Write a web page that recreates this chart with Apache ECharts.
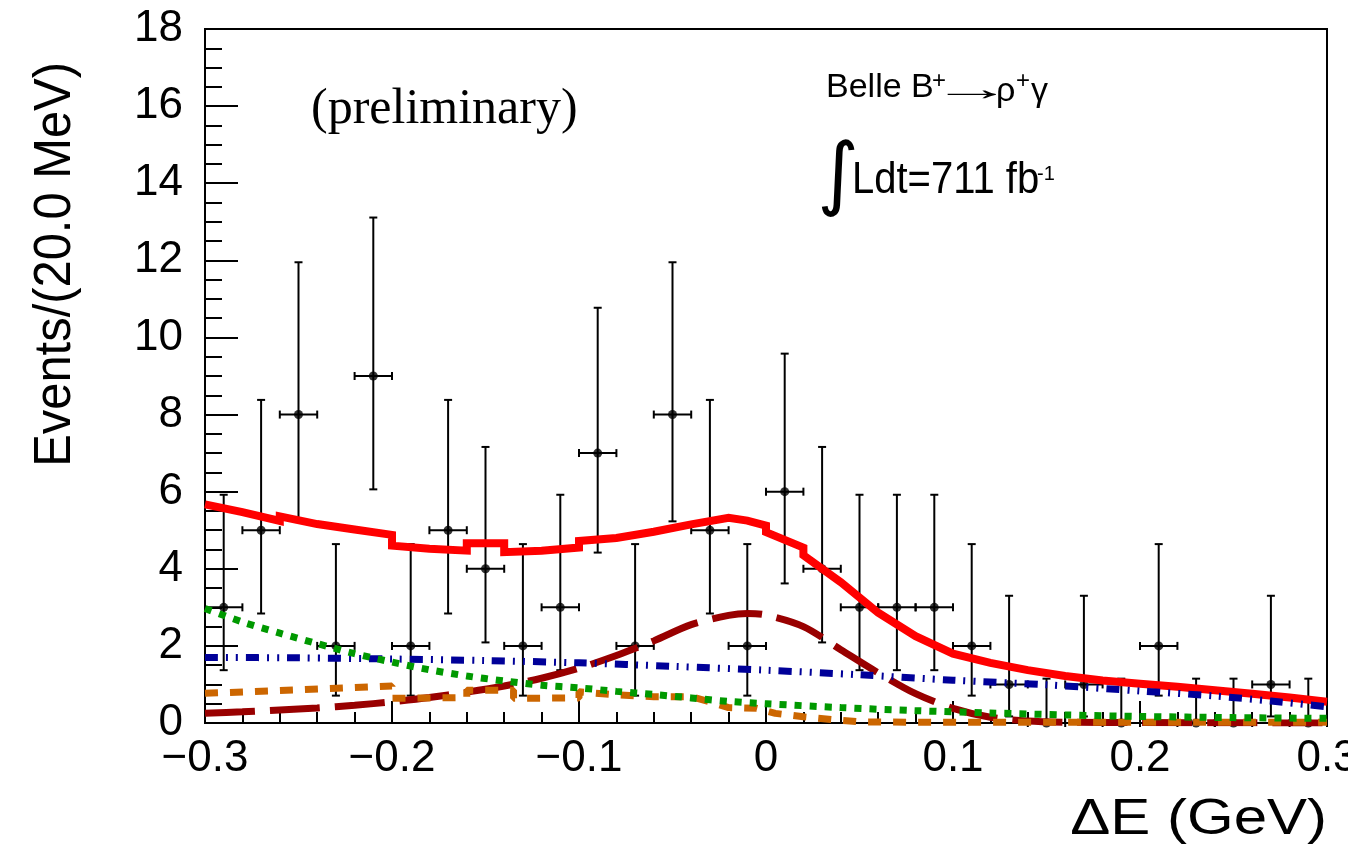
<!DOCTYPE html>
<html>
<head>
<meta charset="utf-8">
<script src="https://cdn.jsdelivr.net/npm/echarts@6/dist/echarts.min.js"></script>
<style>
html,body{margin:0;padding:0;background:#fff;}
#chart{width:1348px;height:850px;}
</style>
</head>
<body>
<div id="chart"></div>
<script>
// ---- data ----
const binWidth = 0.02;
const binCenters = [-0.29,-0.27,-0.25,-0.23,-0.21,-0.19,-0.17,-0.15,-0.13,-0.11,-0.09,-0.07,-0.05,-0.03,-0.01,
                    0.01,0.03,0.05,0.07,0.09,0.11,0.13,0.15,0.17,0.19,0.21,0.23,0.25,0.27,0.29];
const counts = [3,5,8,2,9,2,5,4,2,3,7,2,8,5,2,6,4,3,3,3,2,1,0,1,0,2,0,0,1,0];
const yLow  = [1.37,2.84,5.23,0.71,6.06,0.71,2.84,2.09,0.71,1.37,4.42,0.71,5.23,2.84,0.71,
               3.62,2.09,1.37,1.37,1.37,0.71,0.17,0,0.17,0,0.71,0,0,0.17,0];
const yHigh = [5.92,8.38,11.95,4.64,13.11,4.64,8.38,7.16,4.64,5.92,10.77,4.64,11.95,8.38,4.64,
               9.58,7.16,5.92,5.92,5.92,4.64,3.30,1.15,3.30,1.15,4.64,1.15,1.15,3.30,1.15];

const totalFit = [[-0.30,5.67],[-0.28,5.47],[-0.26,5.24],[-0.26,5.36],[-0.24,5.16],[-0.22,5.02],
  [-0.20,4.88],[-0.20,4.60],[-0.18,4.52],[-0.16,4.47],[-0.16,4.66],[-0.14,4.66],[-0.14,4.43],
  [-0.12,4.47],[-0.10,4.55],[-0.10,4.72],[-0.08,4.80],[-0.06,4.96],[-0.04,5.15],[-0.02,5.32],
  [-0.01,5.25],[0.00,5.12],[0.00,4.95],[0.02,4.55],[0.02,4.35],[0.04,3.65],[0.06,2.86],
  [0.08,2.25],[0.10,1.80],[0.12,1.56],[0.14,1.37],[0.16,1.22],[0.18,1.10],[0.20,1.02],
  [0.22,0.94],[0.24,0.85],[0.26,0.76],[0.28,0.66],[0.30,0.55]];
const signalFit = [[-0.30,0.25],[-0.28,0.29],[-0.26,0.34],[-0.24,0.39],[-0.22,0.46],[-0.20,0.55],
  [-0.18,0.66],[-0.16,0.80],[-0.14,0.96],[-0.12,1.16],[-0.10,1.42],[-0.08,1.75],[-0.06,2.13],
  [-0.04,2.55],[-0.02,2.79],[-0.01,2.84],[0.00,2.80],[0.02,2.50],[0.04,1.90],[0.06,1.30],
  [0.08,0.76],[0.10,0.38],[0.12,0.15],[0.14,0.05],[0.16,0.02],[0.20,0.01],[0.30,0.00]];
const continuumFit = [[-0.30,1.70],[-0.25,1.69],[-0.20,1.66],[-0.15,1.62],[-0.10,1.56],[-0.05,1.47],
  [0.00,1.37],[0.05,1.25],[0.10,1.11],[0.15,0.99],[0.20,0.83],[0.24,0.70],[0.27,0.57],[0.30,0.42]];
const greenFit = [[-0.30,2.97],[-0.28,2.62],[-0.26,2.33],[-0.24,2.06],[-0.22,1.80],[-0.20,1.58],
  [-0.18,1.38],[-0.16,1.22],[-0.14,1.09],[-0.12,0.98],[-0.10,0.91],[-0.08,0.82],[-0.06,0.74],
  [-0.04,0.65],[-0.02,0.56],[0.00,0.50],[0.04,0.40],[0.08,0.32],[0.12,0.26],[0.16,0.21],
  [0.20,0.17],[0.25,0.14],[0.30,0.12]];
const orangeFit = [[-0.30,0.77],[-0.25,0.86],[-0.20,0.96],[-0.20,0.64],[-0.16,0.66],[-0.16,0.85],
  [-0.135,0.85],[-0.135,0.64],[-0.10,0.65],[-0.10,0.81],[-0.08,0.73],[-0.06,0.68],[-0.04,0.68],
  [-0.03,0.55],[-0.02,0.40],[-0.005,0.38],[0.005,0.25],[0.02,0.16],[0.035,0.09],[0.05,0.03],
  [0.08,0.02],[0.30,0.02]];

const xTitle = 'ΔE (GeV)';
const yTitle = 'Events/(20.0 MeV)';

// ---- chart ----
const chart = echarts.init(document.getElementById('chart'), null, {renderer:'canvas'});
const pointData = binCenters.map((x,i)=>[x, counts[i], yLow[i], yHigh[i]]);
const SANS = 'Liberation Sans, Arial, Helvetica, sans-serif';

function fmtX(v){
  const r = Math.round(v*10)/10;
  if (Math.abs(r) < 1e-9) return '0';
  return (r < 0 ? '\u2212' : '') + Math.abs(r).toFixed(1);
}

const option = {
  backgroundColor:'#fff',
  animation:false,
  grid:{left:205, right:21, top:29, bottom:127, containLabel:false, outerBoundsMode:'none',
        show:true, borderColor:'#000', borderWidth:2, backgroundColor:'transparent'},
  xAxis:{
    type:'value', min:-0.3, max:0.3, interval:0.1,
    axisLine:{show:true, onZero:false, lineStyle:{color:'#000', width:2}},
    axisTick:{show:true, inside:true, length:22, lineStyle:{color:'#000', width:2}},
    minorTick:{show:true, splitNumber:5, length:11, lineStyle:{color:'#000', width:2}},
    splitLine:{show:false}, minorSplitLine:{show:false},
    axisLabel:{show:true, showMinLabel:true, showMaxLabel:true, hideOverlap:false, margin:14, fontSize:44, fontFamily:SANS, color:'#000', formatter:fmtX}
  },
  yAxis:{
    type:'value', min:0, max:18, interval:2,
    axisLine:{show:true, onZero:false, lineStyle:{color:'#000', width:2}},
    axisTick:{show:true, inside:true, length:33, lineStyle:{color:'#000', width:2}},
    minorTick:{show:true, splitNumber:4, length:17, lineStyle:{color:'#000', width:2}},
    splitLine:{show:false}, minorSplitLine:{show:false},
    axisLabel:{margin:22, fontSize:44, fontFamily:SANS, color:'#000'}
  },
  series:[
    {
      type:'custom', name:'data', z:2, clip:false,
      data: pointData,
      renderItem:function(params, api){
        const x = api.value(0), y = api.value(1), lo = api.value(2), hi = api.value(3);
        const c = api.coord([x,y]);
        const pLo = api.coord([x,lo]);
        const pHi = api.coord([x,hi]);
        const pL = api.coord([x-binWidth/2,y]);
        const pR = api.coord([x+binWidth/2,y]);
        const st = {stroke:'#000', lineWidth:2};
        const cap = 4;
        return {type:'group', children:[
          {type:'line', shape:{x1:c[0],y1:pHi[1],x2:c[0],y2:pLo[1]}, style:st},
          {type:'line', shape:{x1:c[0]-cap,y1:pHi[1],x2:c[0]+cap,y2:pHi[1]}, style:st},
          {type:'line', shape:{x1:c[0]-cap,y1:pLo[1],x2:c[0]+cap,y2:pLo[1]}, style:st},
          {type:'line', shape:{x1:pL[0],y1:c[1],x2:pR[0],y2:c[1]}, style:st},
          {type:'line', shape:{x1:pL[0],y1:c[1]-cap,x2:pL[0],y2:c[1]+cap}, style:st},
          {type:'line', shape:{x1:pR[0],y1:c[1]-cap,x2:pR[0],y2:c[1]+cap}, style:st}
        ]};
      }
    },
    {
      type:'scatter', name:'points', z:3, symbol:'circle', symbolSize:9,
      itemStyle:{color:'#000'}, data: binCenters.map((x,i)=>[x,counts[i]])
    },
    {type:'line', name:'total', z:4, data: totalFit, showSymbol:false, smooth:false,
      lineStyle:{color:'#ff0000', width:8, cap:'butt', join:'miter'}},
    {type:'line', name:'signal', z:5, data: signalFit, showSymbol:false, smooth:0.3,
      lineStyle:{color:'#990000', width:7, type:[50,15]}},
    {type:'line', name:'continuum', z:6, data: continuumFit, showSymbol:false, smooth:0.3,
      lineStyle:{color:'#000099', width:7, type:[13,8,2,8,2,8]}},
    {type:'line', name:'orange', z:7, data: orangeFit, showSymbol:false, smooth:false,
      lineStyle:{color:'#cc6600', width:7, type:[13,12]}},
    {type:'line', name:'green', z:8, data: greenFit, showSymbol:false, smooth:0.3,
      lineStyle:{color:'#009900', width:7, type:[7,8]}}
  ],
  graphic:[
    {type:'text', x:56, y:62, rotation:Math.PI/2, scaleX:0.94,
      style:{text:yTitle, fontSize:52, fontFamily:SANS, fill:'#000', align:'right', verticalAlign:'middle'}},
    {type:'text', x:1327, y:820, scaleX:1.2,
      style:{text:xTitle, fontSize:50, fontFamily:SANS, fill:'#000', align:'right', verticalAlign:'middle'}},
    {type:'text', x:311, y:110,
      style:{text:'(preliminary)', fontSize:50, fontFamily:'Liberation Serif, Times New Roman, serif', fill:'#000', align:'left', verticalAlign:'middle'}},
    {type:'text', x:826, y:88,
      style:{text:'Belle B', fontSize:34, fontFamily:SANS, fill:'#000', align:'left', verticalAlign:'middle'}},
    {type:'text', x:932, y:81,
      style:{text:'+', fontSize:24, fontFamily:SANS, fill:'#000', align:'left', verticalAlign:'middle'}},
    {type:'text', x:931, y:91, scaleX:2.4,
      style:{text:'→', fontSize:34, fontFamily:SANS, fill:'#000', align:'left', verticalAlign:'middle'}},
    {type:'text', x:996, y:92,
      style:{text:'ρ', fontSize:34, fontFamily:SANS, fill:'#000', align:'left', verticalAlign:'middle'}},
    {type:'text', x:1016, y:81,
      style:{text:'+', fontSize:24, fontFamily:SANS, fill:'#000', align:'left', verticalAlign:'middle'}},
    {type:'text', x:1031, y:92,
      style:{text:'γ', fontSize:34, fontFamily:SANS, fill:'#000', align:'left', verticalAlign:'middle'}},
    {type:'text', x:838, y:179,
      style:{text:'∫', fontSize:80, fontFamily:'DejaVu Sans, sans-serif', fill:'#000', align:'center', verticalAlign:'middle'}},
    {type:'text', x:852, y:181, scaleY:1.1,
      style:{text:'Ldt=711 fb', fontSize:40, fontFamily:SANS, fill:'#000', align:'left', verticalAlign:'middle'}},
    {type:'text', x:1037, y:174,
      style:{text:'-1', fontSize:20, fontFamily:SANS, fill:'#000', align:'left', verticalAlign:'middle'}}
  ]
};
chart.setOption(option);
</script>
</body>
</html>
